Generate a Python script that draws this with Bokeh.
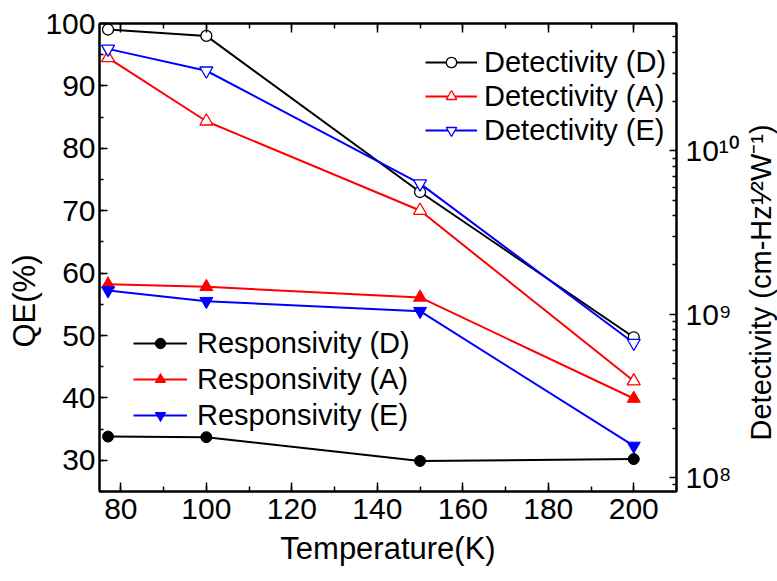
import math

from bokeh.plotting import figure
from bokeh.layouts import row
from bokeh.models import (Range1d, LinearAxis, LogAxis, LogScale, FixedTicker, Title,
                          SingleIntervalTicker, Legend, LegendItem, CustomJSTickFormatter)
from bokeh.core.properties import value
from bokeh.embed import file_html
from bokeh.resources import INLINE

# Operating temperature (K)
temperature_k = [77, 100, 150, 200]

# Responsivity / quantum efficiency (%) for the three devices
responsivity_d = [33.8, 33.7, 29.9, 30.2]
responsivity_a = [58.2, 57.8, 56.1, 39.9]
responsivity_e = [57.2, 55.5, 53.9, 32.3]

# Specific detectivity (Jones) for the three devices
detectivity_d = [5.55e10, 5.07e10, 5.6e9, 7.2e8]
detectivity_a = [3.72e10, 1.52e10, 4.31e9, 3.88e8]
detectivity_e = [4.22e10, 3.10e10, 6.3e9, 6.64e8]

det_ticks = [1e8, 1e9, 1e10]
det_minor_ticks = [m * 10.0 ** e for e in (7, 8, 9, 10) for m in range(2, 10)]

DET_TITLE = "Detectivity (cm-Hz\u00b9\u2044\u00b2W\u207b\u00b9)"

FONT = "Liberation Sans"
TICK_FS = "30px"
TITLE_FS = "31px"
LEGEND_FS = "29px"

FRAME_H = 468
BORDER_TOP = 23
BORDER_BOTTOM = 90

p = figure(frame_width=577, frame_height=FRAME_H,
           x_range=Range1d(75, 210), y_range=Range1d(25, 100),
           min_border_left=99, min_border_right=65,
           min_border_top=BORDER_TOP, min_border_bottom=BORDER_BOTTOM,
           output_backend="svg", toolbar_location=None)

p.extra_y_ranges = {"det": Range1d(10 ** 7.912, 10 ** 10.781)}
p.extra_y_scales = {"det": LogScale()}

p.xgrid.visible = False
p.ygrid.visible = False
p.outline_line_color = "black"
p.outline_line_width = 2
p.background_fill_color = "white"
p.border_fill_color = "white"


def style_axis(ax, major_in=8, minor_in=4):
    ax.axis_line_color = "black"
    ax.axis_line_width = 2
    ax.major_tick_line_color = "black"
    ax.major_tick_line_width = 1.5
    ax.minor_tick_line_color = "black"
    ax.minor_tick_line_width = 1.5
    ax.major_tick_in = major_in
    ax.major_tick_out = 0
    ax.minor_tick_in = minor_in
    ax.minor_tick_out = 0
    ax.major_label_text_font = FONT
    ax.major_label_text_font_size = TICK_FS
    ax.major_label_text_color = "black"
    ax.axis_label_text_font = FONT
    ax.axis_label_text_font_size = TITLE_FS
    ax.axis_label_text_font_style = "normal"
    ax.axis_label_text_color = "black"


# Bottom temperature axis
xax = p.xaxis[0]
xax.ticker = SingleIntervalTicker(interval=20, num_minor_ticks=2)
xax.axis_label = "Temperature(K)"
style_axis(xax, 9, 5)
xax.major_label_standoff = 7
xax.axis_label_standoff = 9

# Left QE axis
yax = p.yaxis[0]
yax.ticker = SingleIntervalTicker(interval=10, num_minor_ticks=2)
style_axis(yax, 8, 4)
yax.major_label_standoff = 4

# QE title outside the left axis, anchored from the frame bottom so it sits
# a little below the frame centre
p.add_layout(Title(text="QE(%)", align="left", offset=144, standoff=0,
                   vertical_align="middle",
                   text_font=FONT, text_font_size=TITLE_FS,
                   text_font_style="normal", text_color="black"), "left")

# Top axis: ticks only
top_ax = LinearAxis(ticker=SingleIntervalTicker(interval=20, num_minor_ticks=2),
                    formatter=CustomJSTickFormatter(code="return ''"))
style_axis(top_ax, 9, 5)
top_ax.major_label_text_font_size = "1px"
top_ax.major_label_standoff = 0
p.add_layout(top_ax, "above")

# Right logarithmic detectivity axis
sup_fmt = CustomJSTickFormatter(code="""
const sup = {"0": "\u2070", "1": "\u00b9", "2": "\u00b2", "3": "\u00b3", "4": "\u2074",
             "5": "\u2075", "6": "\u2076", "7": "\u2077", "8": "\u2078", "9": "\u2079", "-": "\u207b"};
const e = Math.round(Math.log10(tick));
return "10" + String(e).split("").map(c => sup[c]).join("");
""")
right_ax = LogAxis(y_range_name="det",
                   ticker=FixedTicker(ticks=det_ticks, minor_ticks=det_minor_ticks),
                   formatter=sup_fmt)
style_axis(right_ax, 7, 4)
right_ax.major_label_standoff = 9
p.add_layout(right_ax, "right")

# Responsivity series (left axis, filled markers)
resp_items = []
for label, vals, color, marker in [
    ("Responsivity (D)", responsivity_d, "black", "circle"),
    ("Responsivity (A)", responsivity_a, "red", "triangle"),
    ("Responsivity (E)", responsivity_e, "blue", "inverted_triangle"),
]:
    ln = p.line(temperature_k, vals, line_color=color, line_width=2)
    sc = p.scatter(temperature_k, vals, marker=marker, size=11 if marker == "circle" else 13,
                   fill_color=color, line_color=color, line_width=1)
    resp_items.append(LegendItem(label=label, renderers=[ln, sc]))

# Detectivity series (right log axis, hollow markers)
det_items = []
for label, vals, color, marker in [
    ("Detectivity (D)", detectivity_d, "black", "circle"),
    ("Detectivity (A)", detectivity_a, "red", "triangle"),
    ("Detectivity (E)", detectivity_e, "blue", "inverted_triangle"),
]:
    ln = p.line(temperature_k, vals, line_color=color, line_width=2, y_range_name="det")
    sc = p.scatter(temperature_k, vals, marker=marker, size=11 if marker == "circle" else 13,
                   fill_color="white", line_color=color, line_width=1.3, y_range_name="det")
    det_items.append(LegendItem(label=label, renderers=[ln, sc]))


def make_legend(items, location, label_height, standoff, glyph_width):
    return Legend(items=items, location=location,
                  border_line_color=None, background_fill_alpha=0,
                  label_text_font=FONT, label_text_font_size=LEGEND_FS,
                  label_text_color="black",
                  glyph_width=glyph_width, glyph_height=26,
                  label_height=label_height, spacing=0, padding=0, margin=0,
                  label_standoff=standoff)


p.add_layout(make_legend(det_items, (326, 344), 34, 7, 52))
p.add_layout(make_legend(resp_items, (34, 58), 36, 10, 54))

# Narrow strip to the right carrying the detectivity axis title; its frame has the
# same vertical extent as the main frame, and the title reads bottom to top from
# its first letter
strip = figure(frame_width=36, frame_height=FRAME_H,
               x_range=Range1d(0, 36), y_range=Range1d(0, FRAME_H),
               min_border_left=0, min_border_right=0,
               min_border_top=BORDER_TOP, min_border_bottom=BORDER_BOTTOM,
               x_axis_location=None, y_axis_location=None,
               output_backend="svg", toolbar_location=None)
strip.grid.visible = False
strip.outline_line_color = None
strip.background_fill_color = "white"
strip.border_fill_color = "white"
strip.text(x=[18], y=[51], text=[DET_TITLE], angle=math.pi / 2,
           text_align="left", text_baseline="middle",
           text_font=value(FONT), text_font_size="29px", text_color="black")

layout = row(p, strip, spacing=0)

open("out.html", "w").write(file_html(layout, INLINE))
